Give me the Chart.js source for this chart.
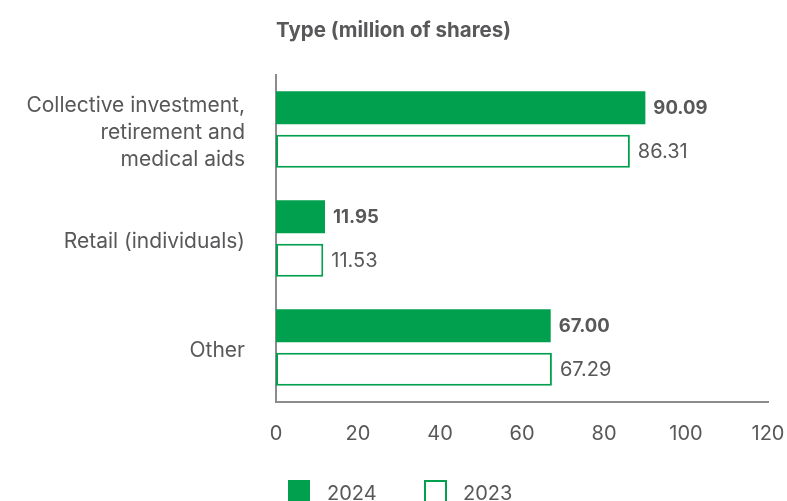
<!DOCTYPE html>
<html>
<head>
<meta charset="utf-8">
<script src="https://cdn.jsdelivr.net/npm/chart.js@4/dist/chart.umd.min.js"></script>
<style>
html,body{margin:0;padding:0;background:#fff;overflow:hidden;}
#wrap{position:relative;width:787px;height:501px;}
</style>
</head>
<body>
<div id="wrap"><canvas id="c" width="787" height="501"></canvas></div>
<script>
const categories = [["Collective investment,", "retirement and", "medical aids"], "Retail (individuals)", "Other"];
const values2024 = [90.09, 11.95, 67.00];
const values2023 = [86.31, 11.53, 67.29];
const xTicks = [0, 20, 40, 60, 80, 100, 120];
const seriesNames = ["2024", "2023"];
const chartTitle = "Type (million of shares)";

const GREEN = "#00a04e";
const TEXT = "#58585a";
const AXIS = "#8c8c8c";
const FONT = "Inter, 'Liberation Sans', Arial, sans-serif";

const extras = {
  id: "extras",
  afterDatasetsDraw(chart) {
    const ctx = chart.ctx;
    ctx.save();
    chart.data.datasets.forEach((ds, di) => {
      const meta = chart.getDatasetMeta(di);
      meta.data.forEach((bar, i) => {
        ctx.font = (di === 0 ? "bold 18.5px " : "20px ") + FONT;
        ctx.fillStyle = TEXT;
        ctx.textAlign = "left";
        ctx.textBaseline = "middle";
        ctx.fillText(ds.data[i].toFixed(2), bar.x + 8, bar.y + 1);
      });
    });
    const ca = chart.chartArea;
    ctx.font = "bold 20.5px " + FONT;
    ctx.fillStyle = TEXT;
    ctx.textAlign = "left";
    ctx.textBaseline = "alphabetic";
    ctx.fillText(chartTitle, ca.left, 37);
    const items = [{x: 288, fill: true}, {x: 424, fill: false}];
    items.forEach((it, k) => {
      if (it.fill) {
        ctx.fillStyle = GREEN;
        ctx.fillRect(it.x, 480, 22, 22);
      } else {
        ctx.strokeStyle = GREEN;
        ctx.lineWidth = 2;
        ctx.strokeRect(it.x + 1, 481, 21, 21);
      }
      ctx.font = "20px " + FONT;
      ctx.fillStyle = TEXT;
      ctx.textBaseline = "alphabetic";
      ctx.fillText(seriesNames[k], it.x + 39, 500);
    });
    ctx.restore();
  }
};

new Chart(document.getElementById("c"), {
  type: "bar",
  data: {
    labels: categories,
    datasets: [
      {label: seriesNames[0], data: values2024, backgroundColor: GREEN, borderColor: GREEN, borderWidth: 0},
      {label: seriesNames[1], data: values2023, backgroundColor: "#ffffff", borderColor: GREEN, borderWidth: 2, borderSkipped: false}
    ]
  },
  options: {
    indexAxis: "y",
    responsive: false,
    animation: false,
    devicePixelRatio: 1,
    categoryPercentage: 0.8,
    barPercentage: 0.76,
    layout: {padding: {left: 0, top: 75, right: 19, bottom: 39}},
    plugins: {legend: {display: false}, title: {display: false}, tooltip: {enabled: false}},
    scales: {
      x: {
        min: 0, max: 120,
        afterBuildTicks(scale) { scale.ticks = xTicks.map(v => ({value: v})); },
        afterFit(scale) { scale.height = 60; scale.paddingLeft = 0; scale.paddingRight = 0; },
        grid: {display: false, drawTicks: false},
        border: {display: true, color: AXIS, width: 2},
        ticks: {color: TEXT, font: {family: FONT, size: 20}, padding: 20, maxRotation: 0}
      },
      y: {
        afterFit(scale) { scale.width = 276; scale.paddingTop = 0; scale.paddingBottom = 0; },
        grid: {display: false, drawTicks: false},
        border: {display: true, color: AXIS, width: 2},
        ticks: {color: TEXT, font: {family: FONT, size: 21, lineHeight: 1.3}, padding: 31, labelOffset: 3}
      }
    }
  },
  plugins: [extras]
});
</script>
</body>
</html>
